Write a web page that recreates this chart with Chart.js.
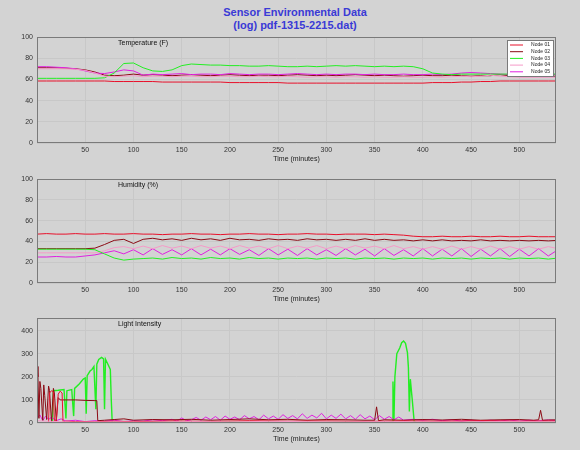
<!DOCTYPE html>
<html lang="en">
<head>
<meta charset="UTF-8">
<title>Sensor Environmental Data</title>
<script src="https://cdn.jsdelivr.net/npm/chart.js"></script>
<style>
  body { margin: 0; background: #d3d3d3; font-family: "Liberation Sans", Arial, sans-serif; }
  #page { position: relative; width: 580px; height: 450px; overflow: hidden; }
  .title { position: absolute; left: 0; width: 590px; text-align: center; color: #3a3ad6;
           font-weight: bold; font-size: 11px; line-height: 13px; }
  .panel { position: absolute; left: 0; }
</style>
</head>
<body>
<div id="page">
  <div class="title" style="top:6px">Sensor Environmental Data</div>
  <div class="title" style="top:19px">(log) pdf-1315-2215.dat)</div>
  <canvas class="panel" id="temp" width="580" height="139" style="top:28px"></canvas>
  <canvas class="panel" id="hum" width="580" height="137" style="top:170px"></canvas>
  <canvas class="panel" id="light" width="580" height="138" style="top:309px"></canvas>
</div>
<script>
// sample times (minutes) for temperature and humidity
const times = [0,10,20,30,40,50,60,70,80,90,100,110,120,130,140,150,160,170,180,190,
  200,210,220,230,240,250,260,270,280,290,300,310,320,330,340,350,360,370,380,390,
  400,410,420,430,440,450,460,470,480,490,500,510,520,530,540];

const sensorNames = ['Node 01', 'Node 02', 'Node 03', 'Node 04', 'Node 05'];
const sensorColors = ['#e8102a', '#8b0a14', '#22ee22', '#f59ac8', '#e020e0'];

// Temperature (F)
const tempRed = [58.5,58.5,58.5,58.5,58.5,58.5,58.5,58.5,58,58,
  58,58,58,57.5,57.5,57.5,57.5,57.5,57.5,57.5,
  57,57,57,57,57,57,56.5,56.5,56.5,56.5,
  56.5,56.5,56.5,56.5,56.5,56.5,56.5,56.5,56.5,56.5,
  56.5,57,57,57,57.5,57.5,58,58,58.5,58.5,
  58.5,58.5,58.5,58.5,58.5];
const tempDarkRed = [71,71,71,70.5,70,69,67,64,63.5,64,
  65,64,64.5,64,63.5,64,64.5,64,63.5,64,
  64.5,64,63.5,64,64,63.5,64,64.5,64,63.5,
  64,63.5,64,64.5,64,63.5,64,63.5,63,63.5,
  64,63.5,63.5,64,63.5,63,63.5,63.5,64.5,63.5,
  63,63,63.5,63,63];
const tempGreen = [61,61,61,61,61,61,61,61.5,66,75,
  75.5,71,68,67.5,69,73,74.5,74,73.5,73.5,
  73,73,72.5,72.5,73,72.5,72,72,72.5,72,
  72.5,73,72.5,73,72.5,72,72.5,72,72.5,72,
  70,66,65,64.5,65,65,65,65,65,65,
  65,65,65,65,65];
const tempPink = [70,70,70,70,69.5,68.5,66,63,62.5,63,
  63.5,62.5,63,63,62.5,63,63,62.5,62.5,63,
  63,62.5,62.5,63,62.5,62.5,63,62.5,62,62.5,
  62.5,62,62.5,62.5,62,62.5,62,62,62.5,62,
  62,62.5,62,62.5,63,62.5,63,64,63,62.5,
  62,62,62,62,62];
const tempMagenta = [72,72,71.5,71,70,68,66,65.5,67,69,
  68,64,65,64.5,65,65.5,64.5,65,65,64.5,
  65.5,65,64.5,65,65,64.5,65,65.5,65,64.5,
  65,64.5,65,65,64.5,65,64.5,64.5,65,64.5,
  64.5,65,64.5,65,66,66.5,66,65.5,65,64.5,
  65,64.5,64.5,64.5,64.5];

// Humidity (%)
const humRed = [47,47.5,47,47,47.5,47,47,47.5,47,47,
  47.5,47,47,46.5,47,47,47.5,47,47,46.5,
  47,47,47.5,47,47,46.5,47,47,47.5,47,
  47,46.5,47,47,47,46.5,47,46.5,46,45,
  44.5,44.5,45,44.5,44.5,45,44.5,44.5,45,44.5,
  44.5,45,44.5,44.5,44.5];
const humDarkRed = [33,33,33,33,33,33,33.5,37,41,42,
  38,42,43,41.5,42.5,41,43,41.5,42.5,41,
  43,41.5,42,41,42.5,41.5,42,41,42.5,41.5,
  42,41,42,41,42.5,41,42,41,41.5,40.5,
  41.5,40.5,41.5,40.5,41,40.5,41.5,40.5,41,40.5,
  41,40.5,41,40.5,41];
const humGreen = [32.5,32.5,32.5,32.5,32.5,32.5,32,28,24,22,
  23,23.5,24,23,24.5,23.5,24,23,24.5,23.5,
  24,23,24.5,23.5,24,23,24,23.5,24,23,
  24,23.5,24,23,24,23.5,24,23,24,23.5,
  24,23,24,23.5,24,23,24,23.5,24,23,
  24,23.5,24,23,24];
const humPink = [29,29,29,29,29,29,29,31,34,35,
  33,35.5,33,36,33.5,35.5,33,36,33.5,35.5,
  33,36,33.5,35.5,33,36,33,35.5,33.5,36,
  33,35.5,33,36,33.5,35.5,33,36,33,35,
  32.5,35,32.5,35.5,32.5,35,32.5,35.5,32.5,35,
  32.5,35,32.5,35,33];
const humMagenta = [25,25,25.5,25,25,26,27,29,31,28,
  32,27,33,27.5,32,27,33,27,32.5,27,
  33,27.5,32,26.5,33,27,32.5,26.5,33,27,
  32,26.5,33,27,32.5,26,33,26.5,32,26,
  33,26,32.5,26,33,25.5,32.5,26,33,25.5,
  32.5,26,33,26,32];

// Light intensity, [minutes, value] pairs
const lightRed = [[0,0],[10,0],[12,5],[13,130],[15,140],[17,135],[18,10],[20,8],[22,125],
  [24,138],[26,130],[27,5],[30,8],[40,6],[60,5],[80,8],[100,6],[140,9],[180,7],[220,10],
  [260,8],[300,9],[340,7],[380,9],[420,8],[460,10],[500,8],[540,9]];
const lightDarkRed = [[0,245],[1,200],[2,20],[3,180],[4,150],[6,10],[7,165],[8,120],[10,15],
  [12,160],[13,140],[15,5],[17,150],[18,130],[20,10],[22,110],[24,100],[30,100],[40,100],
  [50,98],[60,97],[62,97],[63,10],[70,12],[80,15],[90,18],[100,12],[120,15],[140,14],
  [160,16],[180,12],[200,15],[220,18],[240,14],[260,16],[280,12],[300,15],[320,14],
  [340,12],[350,12],[352,70],[354,10],[360,14],[380,12],[400,15],[420,13],[440,16],
  [460,12],[480,14],[500,15],[515,12],[520,14],[522,55],[524,12],[530,13],[540,14]];
const lightGreen = [[0,0],[16,0],[17,140],[22,142],[28,145],[30,20],[31,140],[36,145],
  [38,30],[39,150],[44,170],[48,190],[50,195],[51,40],[52,205],[55,225],[57,232],
  [59,245],[61,60],[62,255],[64,275],[67,284],[69,278],[70,60],[71,276],[74,250],
  [76,232],[77,100],[78,0],[80,3],[120,2],[200,3],[300,4],[364,3],[368,5],[369,180],
  [370,10],[371,200],[373,300],[376,325],[378,348],[380,355],[382,345],[384,305],
  [385,240],[386,50],[387,190],[389,100],[391,5],[395,0],[460,2],[540,2]];
const lightPink = [[0,10],[20,6],[40,4],[80,5],[120,4],[160,6],[200,5],[240,7],[280,6],
  [320,5],[360,6],[400,5],[440,4],[480,6],[540,5]];
const lightMagenta = [[0,20],[3,35],[6,10],[9,30],[12,15],[15,25],[20,10],[25,18],[30,8],
  [40,12],[50,6],[60,10],[70,8],[80,12],[90,6],[100,10],[110,8],[120,14],[130,10],
  [140,16],[145,8],[150,22],[155,10],[160,14],[165,24],[170,12],[175,26],[180,14],
  [185,28],[190,12],[195,30],[200,16],[205,26],[210,14],[215,32],[220,18],[225,28],
  [230,14],[235,34],[240,18],[245,30],[250,16],[255,36],[260,20],[265,32],[270,18],
  [275,40],[280,20],[285,34],[290,22],[295,42],[300,18],[305,34],[310,20],[315,38],
  [320,18],[325,32],[330,16],[335,36],[340,18],[345,30],[350,14],[355,32],[360,16],
  [365,28],[370,14],[375,26],[380,12],[390,16],[400,12],[410,16],[420,10],[430,14],
  [440,8],[450,12],[460,8],[470,12],[480,9],[490,13],[500,8],[510,12],[520,9],
  [530,13],[540,10]];

function series(vals) { return vals.map((v, i) => ({x: times[i], y: v})); }
function pairs(list) { return list.map(p => ({x: p[0], y: p[1]})); }

function ds(idx, data, width) {
  return { label: sensorNames[idx], data: data, borderColor: sensorColors[idx],
           borderWidth: width || 1, pointRadius: 0, fill: false, tension: 0 };
}

const decor = {
  id: 'decor',
  afterDraw(chart, args, opts) {
    const ctx = chart.ctx, a = chart.chartArea;
    ctx.save();
    ctx.strokeStyle = '#7a7a7a';
    ctx.lineWidth = 1;
    ctx.strokeRect(a.left + 0.5, a.top + 0.5, a.right - a.left - 1, a.bottom - a.top - 1);
    ctx.fillStyle = '#111';
    ctx.font = '7px "Liberation Sans", Arial, sans-serif';
    ctx.textBaseline = 'middle';
    ctx.textAlign = 'left';
    ctx.fillText(opts.label, 118, a.top + 6);
    if (opts.legend) {
      const bx = 507, by = a.top + 3, bw = 46, bh = 36;
      ctx.fillStyle = '#fff';
      ctx.fillRect(bx, by, bw, bh);
      ctx.strokeRect(bx + 0.5, by + 0.5, bw, bh);
      ctx.font = '5px "Liberation Sans", Arial, sans-serif';
      ctx.textAlign = 'right';
      sensorNames.forEach((n, i) => {
        const y = by + 5 + i * 6.7;
        ctx.strokeStyle = sensorColors[i];
        ctx.beginPath(); ctx.moveTo(bx + 3, y); ctx.lineTo(bx + 16, y); ctx.stroke();
        ctx.fillStyle = '#222';
        ctx.fillText(n, bx + bw - 3, y);
      });
    }
    ctx.restore();
  }
};

function makePanel(id, datasets, yMax, yStep, label, legend) {
  return new Chart(document.getElementById(id), {
    type: 'line',
    data: { datasets: datasets },
    plugins: [decor],
    options: {
      responsive: false,
      animation: false,
      layout: { padding: { top: 9, right: 24, left: 0, bottom: 0 } },
      plugins: { legend: { display: false }, tooltip: { enabled: false },
                 decor: { label: label, legend: legend } },
      scales: {
        x: {
          type: 'linear', min: 0, max: 538,
          afterBuildTicks: s => { s.ticks = s.ticks.filter(t => t.value > 0 && t.value % 50 === 0); },
          afterFit: s => { s.height = 24; },
          ticks: { stepSize: 50, font: { size: 7 }, color: '#333', padding: 3, maxRotation: 0, autoSkip: false },
          grid: { color: '#c8c8c8', drawTicks: false },
          border: { display: false },
          title: { display: true, text: 'Time (minutes)', font: { size: 7 }, color: '#222',
                   padding: { top: 0, bottom: 4 } }
        },
        y: {
          min: 0, max: yMax,
          afterBuildTicks: s => { s.ticks = s.ticks.filter(t => t.value % yStep === 0); },
          afterFit: s => { s.width = 37; },
          ticks: { stepSize: yStep, font: { size: 7 }, color: '#333', padding: 4 },
          grid: { color: '#c8c8c8', drawTicks: false },
          border: { display: false }
        }
      }
    }
  });
}

makePanel('temp', [
  ds(3, series(tempPink)), ds(0, series(tempRed)), ds(2, series(tempGreen)),
  ds(4, series(tempMagenta)), ds(1, series(tempDarkRed))
], 100, 20, 'Temperature (F)', true);

makePanel('hum', [
  ds(2, series(humGreen)), ds(3, series(humPink)), ds(4, series(humMagenta)),
  ds(0, series(humRed)), ds(1, series(humDarkRed))
], 100, 20, 'Humidity (%)', false);

makePanel('light', [
  ds(3, pairs(lightPink)), ds(0, pairs(lightRed)), ds(1, pairs(lightDarkRed)),
  ds(4, pairs(lightMagenta)), ds(2, pairs(lightGreen), 1.4)
], 455, 100, 'Light Intensity', false);
</script>
</body>
</html>
